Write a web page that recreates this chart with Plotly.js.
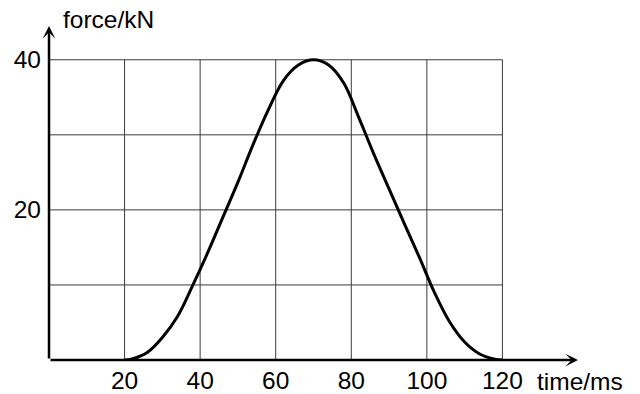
<!DOCTYPE html>
<html>
<head>
<meta charset="utf-8">
<script src="https://cdn.plot.ly/plotly-3.0.1.min.js"></script>
<style>html,body{margin:0;padding:0;background:#fff;}#chart{width:640px;height:394px;}</style>
</head>
<body>
<div id="chart"></div>
<script>
// Data
const timeMs  = [20, 22, 26, 30, 34, 38, 42, 46, 50, 54, 58, 62, 66, 70, 74, 78, 82, 86, 90, 94, 98, 102, 106, 110, 114, 118, 120];
const forceKN = [0, 0.15, 1.0, 3.0, 5.8, 9.9, 14.3, 19.0, 23.7, 28.7, 33.3, 37.2, 39.3, 40, 39.3, 36.9, 32.3, 27.4, 22.8, 18.2, 13.7, 9.0, 5.1, 2.4, 0.8, 0.1, 0];
const xTickVals = [20, 40, 60, 80, 100, 120];
const xTickText = ['20', '40', '60', '80', '100', '120'];
const yGridVals = [10, 20, 30, 40];
const yTickVals = [20, 40];
const yTickText = ['20', '40'];
const xLabel = 'time/ms';
const yLabel = 'force/kN';

const X_MAX = 140, Y_MAX = 44.5;
const GRID_X_END = 120, GRID_Y_END = 40;
const FONT = {family: '"Liberation Sans", Arial, Helvetica, sans-serif', size: 24.5, color: '#000'};

const shapes = [];
xTickVals.forEach(v => shapes.push({type: 'line', xref: 'x', yref: 'y', x0: v, x1: v, y0: 0, y1: GRID_Y_END, line: {color: '#3a3a3a', width: 1}, layer: 'below'}));
yGridVals.forEach(v => shapes.push({type: 'line', xref: 'x', yref: 'y', x0: 0, x1: GRID_X_END, y0: v, y1: v, line: {color: '#3a3a3a', width: 1}, layer: 'below'}));

const annotations = [
  {x: X_MAX, y: 0, ax: 0, ay: 0, xref: 'x', yref: 'y', axref: 'x', ayref: 'y', text: '', showarrow: true, arrowhead: 3, arrowsize: 0.85, arrowwidth: 2.5, arrowcolor: '#000'},
  {x: 0, y: Y_MAX, ax: 0, ay: 0, xref: 'x', yref: 'y', axref: 'x', ayref: 'y', text: '', showarrow: true, arrowhead: 3, arrowsize: 0.85, arrowwidth: 2.5, arrowcolor: '#000'},
  {x: (535 - 49) / 529, y: -0.064, xref: 'paper', yref: 'paper', text: xLabel, showarrow: false, xanchor: 'left', yanchor: 'middle', font: FONT},
  {x: (61 - 49) / 529, y: 1.0, yshift: -9, xref: 'paper', yref: 'paper', text: yLabel, showarrow: false, xanchor: 'left', yanchor: 'bottom', font: FONT}
];

const trace = {
  x: timeMs, y: forceKN, type: 'scatter', mode: 'lines',
  line: {color: '#000', width: 3, shape: 'spline', smoothing: 1},
  hoverinfo: 'skip', cliponaxis: false
};

const layout = {
  width: 640, height: 394,
  margin: {l: 49, r: 62, t: 26, b: 34, pad: 0},
  paper_bgcolor: '#fff', plot_bgcolor: '#fff',
  showlegend: false,
  font: FONT,
  xaxis: {range: [0, X_MAX], showgrid: false, zeroline: false, showline: false, ticks: '',
          tickmode: 'array', tickvals: xTickVals, ticktext: xTickText, tickfont: FONT, ticklabelstandoff: 3, fixedrange: true},
  yaxis: {range: [0, Y_MAX], showgrid: false, zeroline: false, showline: false, ticks: '',
          tickmode: 'array', tickvals: yTickVals, ticktext: yTickText, tickfont: FONT, ticklabelstandoff: 7, fixedrange: true},
  shapes: shapes,
  annotations: annotations
};

Plotly.newPlot('chart', [trace], layout, {staticPlot: true, displayModeBar: false});
</script>
</body>
</html>
